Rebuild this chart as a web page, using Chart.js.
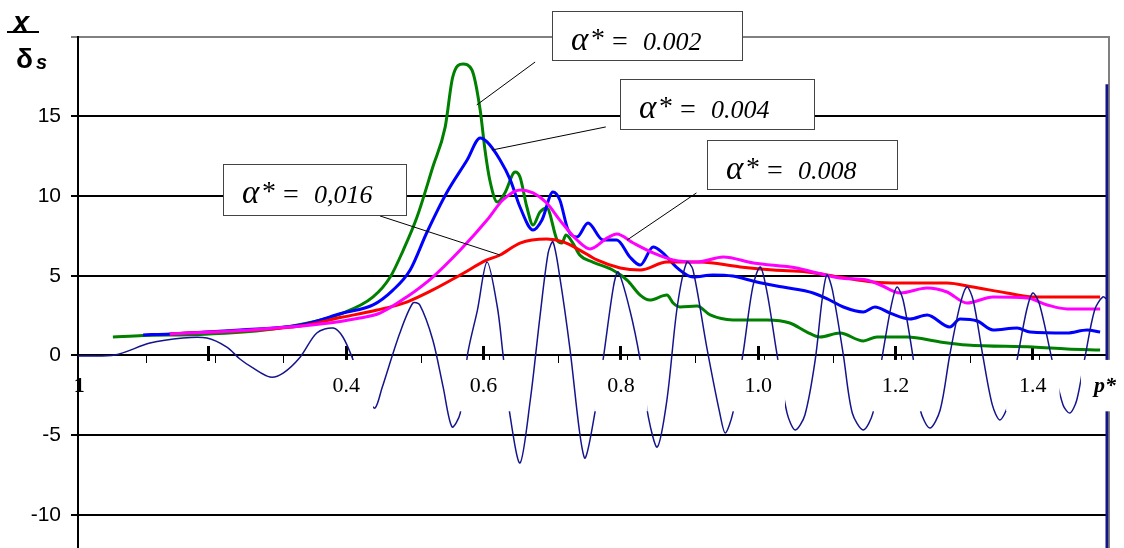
<!DOCTYPE html>
<html>
<head>
<meta charset="utf-8">
<script src="https://cdn.jsdelivr.net/npm/chart.js@4.4.0/dist/chart.umd.min.js"></script>
<style>
  html, body { margin: 0; padding: 0; background: #fff; }
  canvas { display: block; }
</style>
</head>
<body>
<canvas id="chart" width="1124" height="548"></canvas>
<script>
// values: [p*, x/δs]
var curve002 = [[0.060,1.16],[0.104,1.26],[0.187,1.32],[0.303,1.72],[0.395,2.66],[0.439,3.67],[0.464,4.92],[0.483,6.61],[0.503,8.68],[0.526,11.82],[0.544,14.32],[0.555,17.46],[0.570,18.27],[0.583,17.90],[0.595,15.39],[0.602,12.88],[0.609,11.00],[0.620,9.62],[0.631,10.19],[0.646,11.50],[0.653,11.19],[0.663,9.31],[0.672,8.18],[0.682,8.99],[0.692,9.25],[0.707,7.24],[0.714,7.05],[0.720,7.55],[0.730,7.05],[0.740,6.30],[0.759,5.86],[0.788,5.36],[0.809,4.73],[0.828,3.79],[0.842,3.48],[0.867,3.79],[0.876,3.29],[0.886,3.04],[0.911,3.10],[0.930,2.54],[0.963,2.23],[1.013,2.23],[1.046,2.04],[1.071,1.47],[1.090,1.16],[1.119,1.41],[1.153,0.91],[1.173,1.16],[1.217,1.16],[1.265,0.85],[1.304,0.66],[1.400,0.53],[1.450,0.41],[1.498,0.34]];
var curve004 = [[0.104,1.29],[0.143,1.35],[0.245,1.60],[0.333,1.91],[0.395,2.66],[0.439,3.17],[0.468,4.10],[0.493,5.36],[0.517,7.68],[0.546,10.19],[0.576,12.26],[0.595,13.64],[0.605,13.39],[0.624,12.26],[0.639,11.00],[0.653,9.31],[0.672,7.87],[0.685,8.50],[0.701,10.25],[0.711,9.75],[0.723,7.87],[0.736,7.43],[0.752,8.31],[0.774,7.24],[0.794,7.24],[0.813,6.18],[0.828,5.67],[0.847,6.80],[0.861,6.43],[0.882,5.49],[0.905,4.92],[0.934,5.05],[0.963,4.98],[0.998,4.61],[1.036,4.29],[1.080,3.92],[1.104,3.48],[1.124,3.04],[1.153,2.73],[1.170,3.04],[1.192,2.66],[1.221,2.29],[1.246,2.54],[1.279,1.79],[1.294,2.29],[1.319,2.16],[1.342,1.60],[1.377,1.72],[1.396,1.47],[1.450,1.41],[1.479,1.60],[1.498,1.47]];
var curve008 = [[0.143,1.35],[0.260,1.60],[0.362,1.97],[0.420,2.35],[0.449,2.66],[0.488,3.67],[0.526,4.92],[0.566,6.61],[0.605,8.49],[0.628,9.75],[0.653,10.38],[0.672,10.19],[0.692,9.56],[0.711,8.49],[0.736,7.24],[0.755,6.68],[0.780,7.37],[0.794,7.62],[0.818,7.05],[0.847,6.43],[0.876,5.99],[0.911,5.86],[0.949,6.18],[0.993,5.80],[1.056,5.49],[1.086,5.17],[1.119,4.86],[1.158,4.73],[1.178,4.42],[1.207,3.92],[1.246,4.23],[1.275,3.98],[1.304,3.29],[1.342,3.67],[1.392,3.61],[1.421,3.17],[1.450,2.92],[1.498,2.92]];
var curve016 = [[0.143,1.35],[0.333,1.85],[0.395,2.41],[0.445,2.85],[0.488,3.35],[0.526,4.11],[0.566,5.05],[0.605,5.99],[0.624,6.30],[0.653,7.05],[0.692,7.30],[0.716,7.12],[0.740,6.61],[0.765,5.99],[0.799,5.49],[0.828,5.36],[0.867,5.86],[0.915,5.86],[0.974,5.55],[1.022,5.36],[1.071,5.24],[1.119,4.92],[1.167,4.61],[1.207,4.55],[1.275,4.55],[1.313,4.29],[1.362,3.92],[1.400,3.67],[1.498,3.67]];
// oscillating signal under the curves
var signal = [[0.009,-0.03],[0.063,0.03],[0.114,0.78],[0.162,1.10],[0.197,1.10],[0.226,0.53],[0.245,-0.22],[0.264,-0.78],[0.289,-1.35],[0.308,-1.10],[0.333,-0.09],[0.357,1.41],[0.381,1.72],[0.395,1.16],[0.410,-0.28],[0.432,-2.79],[0.442,-3.29],[0.452,-2.04],[0.478,1.41],[0.497,3.29],[0.507,3.17],[0.526,0.97],[0.541,-1.97],[0.554,-4.48],[0.566,-3.61],[0.577,0.16],[0.591,2.85],[0.605,5.86],[0.620,3.04],[0.628,0.16],[0.638,-3.61],[0.653,-6.74],[0.668,-2.79],[0.682,2.41],[0.694,6.43],[0.701,7.12],[0.711,4.92],[0.726,0.34],[0.740,-4.86],[0.748,-6.43],[0.762,-3.61],[0.774,-0.28],[0.789,4.29],[0.796,5.24],[0.813,2.85],[0.828,-0.28],[0.840,-3.86],[0.853,-5.74],[0.867,-2.79],[0.882,3.04],[0.896,5.86],[0.905,5.36],[0.925,0.53],[0.944,-3.61],[0.952,-4.86],[0.963,-3.61],[0.978,0.16],[0.992,4.29],[1.003,5.55],[1.013,3.92],[1.027,0.16],[1.042,-3.61],[1.054,-4.67],[1.068,-3.73],[1.083,-0.28],[1.093,3.48],[1.100,5.05],[1.108,4.11],[1.124,0.03],[1.137,-3.61],[1.153,-4.67],[1.167,-3.61],[1.181,0.03],[1.194,3.17],[1.202,4.29],[1.211,3.48],[1.225,0.03],[1.236,-3.42],[1.250,-4.55],[1.265,-3.42],[1.279,0.03],[1.294,3.17],[1.304,4.29],[1.313,3.48],[1.327,0.03],[1.341,-3.10],[1.352,-4.04],[1.364,-3.10],[1.377,-0.28],[1.391,2.85],[1.400,3.92],[1.410,3.17],[1.429,-0.47],[1.444,-3.10],[1.454,-3.61],[1.464,-2.79],[1.476,-0.09],[1.490,2.85],[1.502,3.67],[1.509,3.48]];
var signalEdge = [[1.508,-12.07],[1.508,17.0]];

var yTicks = [-10, -5, 0, 5, 10, 15, 20];
var minorTicks = [0.009,0.109,0.209,0.309,0.409,0.509,0.609,0.709,0.809,0.909,1.009,1.109,1.209,1.309,1.409,1.509];
var labelTicks = [0.011, 0.2, 0.4, 0.6, 0.8, 1.0, 1.2, 1.4, 1.505];
var labelTexts = ['1', '', '0.4', '0.6', '0.8', '1.0', '1.2', '1.4', 'p*'];
var alphaTexts = ['0.002', '0.004', '0.008', '0,016'];

// callout boxes: top-left corner and leader line in data units
var callouts = [
  {x: 0.700, y: 21.60, w: 190, h: 49, from: [0.675, 18.40], to: [0.590, 15.71]},
  {x: 0.799, y: 17.34, w: 194, h: 50, from: [0.778, 14.33], to: [0.612, 12.88]},
  {x: 0.925, y: 13.53, w: 190, h: 49, from: [0.910, 10.19], to: [0.809, 7.24]},
  {x: 0.220, y: 12.02, w: 183, h: 51, from: [0.449, 8.75], to: [0.624, 6.30]}
];

function pts(arr) {
  return arr.map(function(p) { return {x: p[0], y: p[1]}; });
}

function line(data, color, width, tension) {
  return {
    data: pts(data),
    borderColor: color,
    borderWidth: width,
    pointRadius: 0,
    fill: false,
    tension: tension,
    cubicInterpolationMode: tension > 0.35 ? 'monotone' : 'default',
    xAxisID: 'x',
    yAxisID: 'y'
  };
}

// no extra room for edge labels, the plot area is fixed by layout.padding
function noPad(s) {
  s.paddingLeft = 0; s.paddingRight = 0; s.paddingTop = 0; s.paddingBottom = 0;
}

var navy = '#14148c';

var overlay = {
  id: 'overlay',
  afterDraw: function(chart) {
    var ctx = chart.ctx;
    var sx = chart.scales.x, sy = chart.scales.y;
    ctx.save();
    // axis title x / δs
    ctx.fillStyle = '#000';
    ctx.textBaseline = 'alphabetic';
    ctx.font = 'bold italic 29px "Liberation Sans"';
    ctx.fillText('x', 13, 32);
    ctx.fillRect(7, 31, 32, 2);
    ctx.font = 'bold 28px "Liberation Sans"';
    ctx.fillText('δ', 16, 68);
    ctx.font = 'bold italic 20px "Liberation Sans"';
    ctx.fillText('s', 36, 69);

    callouts.forEach(function(c, i) {
      var fx = sx.getPixelForValue(c.from[0]), fy = sy.getPixelForValue(c.from[1]);
      var tx = sx.getPixelForValue(c.to[0]), ty = sy.getPixelForValue(c.to[1]);
      ctx.strokeStyle = '#000';
      ctx.lineWidth = 1;
      ctx.beginPath();
      ctx.moveTo(fx, fy);
      ctx.lineTo(tx, ty);
      ctx.stroke();

      var left = Math.round(sx.getPixelForValue(c.x));
      var top = Math.round(sy.getPixelForValue(c.y));
      ctx.fillStyle = '#fff';
      ctx.fillRect(left, top, c.w, c.h);
      ctx.strokeStyle = '#444';
      ctx.strokeRect(left + 0.5, top + 0.5, c.w, c.h);

      ctx.fillStyle = '#000';
      var base = top + 39;
      ctx.font = 'italic 33px "Liberation Serif"';
      ctx.fillText('α', left + 19, base);
      ctx.font = '28px "Liberation Serif"';
      ctx.fillText('*', left + 39, base - 3);
      ctx.fillText('=', left + 60, base);
      ctx.font = 'italic 26px "Liberation Serif"';
      ctx.fillText(alphaTexts[i], left + 91, base);
    });
    ctx.restore();
  }
};

new Chart(document.getElementById('chart'), {
  type: 'line',
  data: {
    datasets: [
      line(signalEdge, navy, 3, 0),
      line(signal, navy, 1.5, 0.3),
      line(curve008, '#ff00ff', 3, 0.4),
      line(curve016, '#ff0000', 3, 0.4),
      line(curve004, '#0000ff', 3, 0.4),
      line(curve002, '#008000', 3, 0.4)
    ]
  },
  options: {
    responsive: false,
    animation: false,
    devicePixelRatio: 1,
    layout: { padding: { left: 0, right: 15.5, top: 36.5, bottom: 0 } },
    plugins: { legend: { display: false }, tooltip: { enabled: false } },
    scales: {
      x: {
        type: 'linear',
        min: 0.0092,
        max: 1.5102,
        position: { y: 0 },
        afterBuildTicks: function(s) { s.ticks = minorTicks.map(function(v) { return {value: v}; }); },
        afterFit: noPad,
        ticks: { display: false },
        grid: { drawOnChartArea: false, tickLength: 7, lineWidth: 1, color: '#000' },
        border: { display: true, color: '#000', width: 2 }
      },
      xl: {
        type: 'linear',
        min: 0.0092,
        max: 1.5102,
        position: { y: 0.6 },
        afterBuildTicks: function(s) { s.ticks = labelTicks.map(function(v) { return {value: v}; }); },
        afterFit: noPad,
        ticks: {
          z: 1,  // labels and their white backdrops over the signal
          autoSkip: false,
          maxRotation: 0,
          padding: 12,
          color: '#000',
          callback: function(v, i) { return labelTexts[i]; },
          font: function(c) {
            var t = labelTexts[c.index];
            if (t === 'p*') return {family: 'Liberation Serif', size: 22, style: 'italic', weight: 'bold'};
            if (t === '1') return {family: 'Liberation Serif', size: 22, weight: 'bold'};
            return {family: 'Liberation Serif', size: 22};
          },
          showLabelBackdrop: true,
          backdropColor: function(c) {
            var t = labelTexts[c.index];
            return (t === '1' || t === '') ? 'rgba(0,0,0,0)' : '#fff';
          },
          backdropPadding: { top: 13, bottom: 12, left: 13, right: 13 }
        },
        grid: {
          drawOnChartArea: false,
          tickLength: 15,
          lineWidth: 3,
          color: function(c) {
            var t = labelTexts[c.index];
            return (t === '1' || t === 'p*') ? 'rgba(0,0,0,0)' : '#000';
          }
        },
        border: { display: false }
      },
      y: {
        type: 'linear',
        position: 'left',
        min: -12.07,
        max: 20,
        afterBuildTicks: function(s) { s.ticks = yTicks.map(function(v) { return {value: v}; }); },
        afterFit: function(s) { s.width = 78; noPad(s); },
        ticks: {
          padding: 10,
          color: '#000',
          font: { family: 'Liberation Sans', size: 21 },
          callback: function(v) { return v === 20 ? '' : String(v); }
        },
        grid: {
          lineWidth: 2,
          tickLength: 7,
          color: function(c) { return c.tick && c.tick.value === 20 ? '#808080' : '#000'; }
        },
        border: { display: true, color: '#000', width: 2 }
      },
      yr: {
        type: 'linear',
        position: 'right',
        afterFit: function(s) { s.width = 0; noPad(s); },
        ticks: { display: false },
        grid: { drawOnChartArea: false, drawTicks: false },
        border: { display: true, color: '#808080', width: 2 }
      }
    }
  },
  plugins: [overlay]
});
</script>
</body>
</html>
